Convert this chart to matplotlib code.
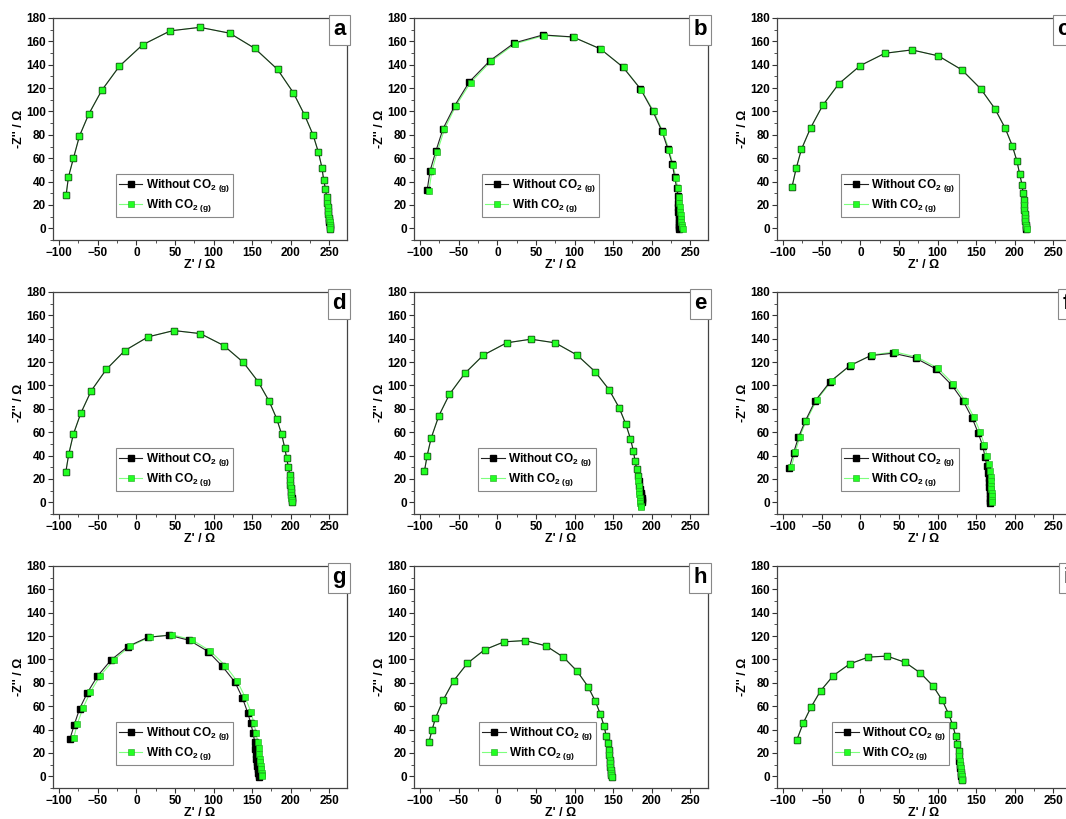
import matplotlib
matplotlib.use('Agg')
import matplotlib.pyplot as plt
from matplotlib.ticker import MultipleLocator
from matplotlib.lines import Line2D

plt.rcParams['font.family'] = ['Liberation Sans', 'DejaVu Sans']
plt.rcParams['font.weight'] = 'bold'
plt.rcParams['mathtext.fontset'] = 'custom'
plt.rcParams['mathtext.rm'] = 'Liberation Sans:bold'
plt.rcParams['mathtext.bf'] = 'Liberation Sans:bold'
plt.rcParams['mathtext.default'] = 'bf'

# panel letters
panels = ['a', 'b', 'c', 'd', 'e', 'f', 'g', 'h', 'i']

# Nyquist data: Z' (ohm), -Z'' (ohm)
a_x_wo = [-91, -88, -81.5, -73.7, -61.7, -44.9, -22, 8, 44, 82.5, 121, 153.5, 183, 203.5, 218, 229, 236, 240.5, 242.7, 245, 246.5,
          247.5, 248, 248.5, 249, 249.5, 250, 250, 250.5, 251, 251]
a_y_wo = [28.5, 43.9, 60, 79, 97.7, 118, 138.7, 157, 169, 172, 167, 154, 136, 116, 97, 80, 65, 52, 41.6, 34, 27,
          22, 18, 15, 12, 9, 7, 5, 3, 1, -1]
a_x_w = [-91, -88, -81.5, -73.7, -61.7, -44.9, -22, 8, 44, 82.5, 121, 153.5, 183, 203.5, 218, 229, 236, 240.5, 242.7, 245, 246.5,
         247.5, 248, 248.5, 249, 249.5, 250, 250.5, 250.5, 251, 251.5]
a_y_w = [28.5, 43.9, 60, 79, 97.7, 118, 138.7, 157, 169, 172, 167, 154, 136, 116, 97, 80, 65, 52, 41.6, 34, 27,
         22, 18, 15, 12, 9, 7, 5, 3, 1, -1]

b_x_wo = [-91, -87.1, -79.8, -70.3, -55.3, -36.4, -9.7, 22.1, 59.1, 97.8, 133.5, 162.7, 185.5, 201.4, 213.4, 221.2, 226.8, 229.8, 232.4, 234,
          234.2, 234.4, 234.6, 234.8, 235, 235.2, 235.4, 235.6, 235.8]
b_y_wo = [32.6, 49.3, 65.8, 85.3, 104.9, 125.3, 143.4, 158.7, 165.5, 163.8, 153.6, 138, 119.3, 100.3, 83, 67.5, 54.7, 43.7, 34.6, 27.5,
          22, 18, 14, 11, 8, 5, 3, 1, -1]
b_x_w = [-88.6, -84.9, -78, -68.5, -54, -34.7, -8, 23.4, 60.8, 99.1, 133.9, 163.5, 186.4, 202.7, 214.6, 222.5, 227.7, 231.5, 233.7, 235,
         236, 236.5, 237, 237.5, 238, 238.5, 239, 239.5, 240]
b_y_w = [32.3, 48.8, 65.2, 84.8, 104.6, 124.7, 143.1, 158.1, 165, 163.6, 153.3, 137.8, 118.7, 100, 82.5, 67.3, 54.4, 43.4, 34.3, 27.2,
         22, 18, 14, 11, 8, 5, 3, 1, -1]

c_x_wo = [-88.5, -83.2, -76.3, -64.5, -48.8, -27.9, 0, 31.8, 66.7, 101.1, 131.6, 156, 174.3, 187.8, 197, 203, 206.5, 209.6, 210.9,
          211.5, 212, 212.5, 213, 213.5, 214, 214.5, 215, 215]
c_y_wo = [35.5, 51.2, 67.7, 85.9, 105.2, 123.7, 139.3, 149.8, 152.7, 147.6, 135.6, 119.4, 102.4, 85.6, 70.5, 57.4, 46.3, 37.2, 29.9,
          24, 20, 16, 12, 9, 6, 3, 1, -1]
c_x_w = [-88.5, -83.2, -76.3, -64.5, -48.8, -27.9, 0, 31.8, 66.7, 101.1, 131.6, 156, 174.3, 187.8, 197, 203, 206.5, 209.6, 210.9,
         211.5, 212, 212.5, 213, 213.5, 214, 214.5, 215, 215.5]
c_y_w = [35.5, 51.2, 67.7, 85.9, 105.2, 123.7, 139.3, 149.8, 152.7, 147.6, 135.6, 119.4, 102.4, 85.6, 70.5, 57.4, 46.3, 37.2, 29.9,
         24, 20, 16, 12, 9, 6, 3, 1, -1]

d_x_wo = [-91.5, -87.6, -81.6, -72, -58.6, -39, -14.8, 15.2, 48.6, 82.9, 113.2, 138.8, 157.9, 172.2, 181.8, 188.3, 192.2, 194.8, 197, 198.7,
          199.2, 199.6, 200, 200.4, 200.8, 201.2, 201.6, 202]
d_y_wo = [25.6, 41.2, 58.3, 76.2, 95.3, 113.7, 129.9, 141.6, 147, 144.4, 134.2, 119.7, 103.2, 86.4, 71.7, 58.3, 46.9, 37.8, 30.4, 23.6,
          19, 15, 12, 9, 6, 4, 2, 0]
d_x_w = [-91.5, -87.6, -81.6, -72, -58.6, -39, -14.8, 15.2, 48.6, 82.9, 113.2, 138.8, 157.9, 172.2, 181.8, 188.3, 192.2, 194.8, 197, 198.7,
         199, 199.4, 199.8, 200.2, 200.6, 201, 201.4, 201.8]
d_y_w = [25.6, 41.2, 58.3, 76.2, 95.3, 113.7, 129.9, 141.6, 147, 144.4, 134.2, 119.7, 103.2, 86.4, 71.7, 58.3, 46.9, 37.8, 30.4, 23.6,
         19, 15, 12, 9, 6, 4, 2, 0]

e_x_wo = [-94.4, -91, -85.8, -75.9, -62.1, -42.2, -18.1, 12.1, 43.5, 75, 103.4, 126.7, 144.8, 157.8, 166.4, 172.4, 176.3, 178.4, 180.6, 181.9,
          183, 184, 185, 186, 186.5, 187, 187.5, 188]
e_y_wo = [27, 39.8, 54.9, 73.9, 92.4, 110.3, 126, 136.5, 139.6, 136.5, 126, 111.8, 96.4, 81, 67.1, 54.6, 44.1, 35.6, 28.4, 22.7,
          18, 14, 11, 8, 6, 4, 2, 0]
e_x_w = [-94.4, -91, -85.8, -75.9, -62.1, -42.2, -18.1, 12.1, 43.5, 75, 103.4, 126.7, 144.8, 157.8, 166.4, 172.4, 176.3, 178.4, 180.6, 181.9,
         182.5, 183, 183.5, 184, 184.5, 185, 185.5, 186, 186.5]
e_y_w = [27, 39.8, 54.9, 73.9, 92.4, 110.3, 126, 136.5, 139.6, 136.5, 126, 111.8, 96.4, 81, 67.1, 54.6, 44.1, 35.6, 28.4, 22.7,
         18, 14, 10, 7, 4, 1, -1, -3, -4]

f_x_wo = [-92.1, -86.5, -80.3, -71.6, -58.5, -38.9, -14, 13.5, 42.4, 72, 97.8, 118.3, 133.6, 145, 152.8, 158.5, 161.6, 163.8, 166,
          166.5, 167, 167.3, 167.6, 167.9, 168.2, 168.6, 168.6]
f_y_wo = [29.3, 42.4, 55.5, 69.2, 86.9, 103.4, 116.8, 125.6, 127.6, 123.3, 114.2, 100.5, 86.3, 72, 59.2, 48.4, 39, 31.3, 25.3,
          21, 17, 13, 10, 7, 4, 1, -1]
f_x_w = [-89.5, -84.3, -78.5, -69.9, -56.5, -37.1, -12.5, 15.3, 45, 73.8, 100, 120.5, 135.8, 147.2, 155.5, 160.7, 164.2, 166.8, 168.6,
         169, 169.3, 169.6, 169.9, 170.2, 170.5, 170.7, 170.7]
f_y_w = [30.2, 43, 56.1, 70, 87.5, 104, 117.4, 126.2, 128.7, 124.2, 115, 101.4, 86.9, 72.9, 60.1, 49.3, 39.9, 32.5, 26.5,
         22, 18, 14, 11, 8, 5, 2, 0]

g_x_wo = [-86.1, -80.4, -73.5, -63.5, -50.4, -33, -11.3, 14.8, 42.6, 68.7, 93, 111.3, 127.8, 137.4, 144.3, 148.3, 151.3, 153.5, 154.3,
          155, 155.6, 156.2, 156.8, 157.4, 158, 158.7, 158.7]
g_y_wo = [31.8, 44.3, 57.9, 71.5, 85.7, 99.4, 111, 119, 120.7, 116.4, 106.8, 94.3, 80.6, 67.3, 54.5, 45.4, 36.9, 29, 23.3,
          19, 15, 12, 9, 6, 3, 1, -1]
g_x_w = [-81.3, -76.5, -69.1, -59.6, -47, -29.1, -8.3, 17.8, 45.7, 71.7, 95.7, 115.2, 130.9, 140.9, 148.3, 152.2, 155.2, 157.4, 158.7,
         159.3, 159.9, 160.5, 161.1, 161.7, 162.2, 162.6, 162.6]
g_y_w = [32.4, 44.9, 58.5, 72.1, 86, 99.7, 111.3, 119.2, 121.2, 117, 107.3, 94.8, 81.2, 67.9, 55.4, 46, 37.2, 29.2, 23.9,
         19, 15, 12, 9, 6, 3, 1, 0]

h_x_wo = [-88.6, -84.7, -80.3, -70.3, -56.8, -38.9, -16.6, 8.7, 36.2, 62.9, 85.6, 103.5, 117.5, 127.1, 133.6, 138.4, 141, 143.2, 144.1,
          144.8, 145.4, 146, 146.6, 147, 147.4, 147.8, 148]
h_y_wo = [29.5, 39.4, 49.6, 65.2, 81.6, 96.7, 108.3, 115.1, 116.2, 111.7, 102, 89.9, 76.8, 64.1, 53, 42.8, 34.9, 28.3, 22.4,
          18, 14, 11, 8, 5, 3, 1, -1]
h_x_w = [-88.6, -84.7, -80.3, -70.3, -56.8, -38.9, -16.6, 8.7, 36.2, 62.9, 85.6, 103.5, 117.5, 127.1, 133.6, 138.4, 141, 143.2, 144.1,
         144.8, 145.4, 146, 146.6, 147, 147.4, 147.8, 148.2]
h_y_w = [29.5, 39.4, 49.6, 65.2, 81.6, 96.7, 108.3, 115.1, 116.2, 111.7, 102, 89.9, 76.8, 64.1, 53, 42.8, 34.9, 28.3, 22.4,
         18, 14, 11, 8, 5, 3, 1, -1]

i_x_wo = [-82.3, -74, -63.9, -51.6, -35, -14, 10.1, 34.6, 58.2, 77.9, 94.5, 106.3, 114.2, 119.9, 123.4, 125.6, 127.4,
          128, 128.5, 129, 129.5, 130, 130.4, 130.8, 131.2, 131.7]
i_y_wo = [31.2, 45.6, 59.2, 73.1, 86.2, 96.1, 102, 102.9, 97.5, 88.4, 77.1, 64.9, 53.6, 43.7, 34.6, 27.5, 21.3,
          17, 13, 10, 7, 4, 2, 0, -2, -3]
i_x_w = [-82.3, -74, -63.9, -51.6, -35, -14, 10.1, 34.6, 58.2, 77.9, 94.5, 106.3, 114.2, 119.9, 123.4, 125.6, 127.4,
         128.2, 128.8, 129.4, 130, 130.5, 131, 131.4, 131.8, 132.2]
i_y_w = [31.2, 45.6, 59.2, 73.1, 86.2, 96.1, 102, 102.9, 97.5, 88.4, 77.1, 64.9, 53.6, 43.7, 34.6, 27.5, 21.3,
         17, 13, 10, 7, 4, 2, 0, -2, -3]

data = [
    (a_x_wo, a_y_wo, a_x_w, a_y_w),
    (b_x_wo, b_y_wo, b_x_w, b_y_w),
    (c_x_wo, c_y_wo, c_x_w, c_y_w),
    (d_x_wo, d_y_wo, d_x_w, d_y_w),
    (e_x_wo, e_y_wo, e_x_w, e_y_w),
    (f_x_wo, f_y_wo, f_x_w, f_y_w),
    (g_x_wo, g_y_wo, g_x_w, g_y_w),
    (h_x_wo, h_y_wo, h_x_w, h_y_w),
    (i_x_wo, i_y_wo, i_x_w, i_y_w),
]

black_c = '#222222'
green_line = '#7dff7d'
green_face = '#22ff22'
green_edge = '#1fa31f'

W, H = 1066, 819
fig = plt.figure(figsize=(W / 100, H / 100), dpi=100)

col_left = [53, 414, 777]
row_top = [18, 292, 566]
aw, ah = 294, 222
# legend left edge (axes fraction) per panel
leg_x = [0.214, 0.231, 0.218, 0.214, 0.218, 0.218, 0.214, 0.221, 0.187]

for k, (xw, yw, xg, yg) in enumerate(data):
    r, c = divmod(k, 3)
    ax = fig.add_axes([col_left[c] / W, 1 - (row_top[r] + ah) / H, aw / W, ah / H])

    # green line under the black one, green squares on top
    ax.plot(xg, yg, '-', color=green_line, lw=0.8, zorder=1.8)
    ax.plot(xw, yw, '-', color=black_c, lw=0.8, marker='s', ms=3.8,
            mfc='black', mec='black', zorder=2)
    ax.plot(xg, yg, 's', ms=3.8, mfc=green_face, mec=green_edge, mew=0.4, zorder=3)

    ax.set_xlim(-108, 273)
    ax.set_ylim(-10, 180)
    ax.xaxis.set_major_locator(MultipleLocator(50))
    ax.xaxis.set_minor_locator(MultipleLocator(25))
    ax.yaxis.set_major_locator(MultipleLocator(20))
    ax.yaxis.set_minor_locator(MultipleLocator(10))
    ax.tick_params(which='major', direction='out', length=3.5, width=0.8, labelsize=8.5, pad=1.5,
                   top=False, right=False, color='#333333')
    ax.tick_params(which='minor', direction='out', length=2, width=0.6, top=False, right=False,
                   color='#333333')
    for lab in ax.get_xticklabels() + ax.get_yticklabels():
        lab.set_fontweight('bold')
    for s in ax.spines.values():
        s.set_color('#444444')
        s.set_linewidth(0.9)

    ax.set_xlabel("Z' / \u03a9", fontsize=9, fontweight='bold', labelpad=0)
    ax.set_ylabel("-Z'' / \u03a9", fontsize=9, fontweight='bold', labelpad=1)

    ax.text(0.996, 0.994, panels[k], transform=ax.transAxes, ha='right', va='top',
            fontsize=16, fontweight='bold',
            bbox=dict(boxstyle='square,pad=0.2', fc='white', ec='#888888', lw=0.8))

    handles = [
        Line2D([], [], color=black_c, lw=0.8, marker='s', ms=3.8, mfc='black', mec='black'),
        Line2D([], [], color=green_line, lw=0.8, marker='s', ms=3.8, mfc=green_face,
               mec=green_edge, mew=0.4),
    ]
    labels = ['Without CO$_{2\\ (g)}$', 'With CO$_{2\\ (g)}$']
    leg = ax.legend(handles, labels, loc='lower left', bbox_to_anchor=(leg_x[k], 0.105), fontsize=8.5,
                    frameon=True, fancybox=False, edgecolor='#888888', framealpha=1,
                    handlelength=2.0, handletextpad=0.3, borderpad=0.25, labelspacing=0.25,
                    borderaxespad=0)
    leg.get_frame().set_linewidth(0.8)
    for t in leg.get_texts():
        t.set_fontweight('bold')

fig.savefig('out.png', dpi=100)
